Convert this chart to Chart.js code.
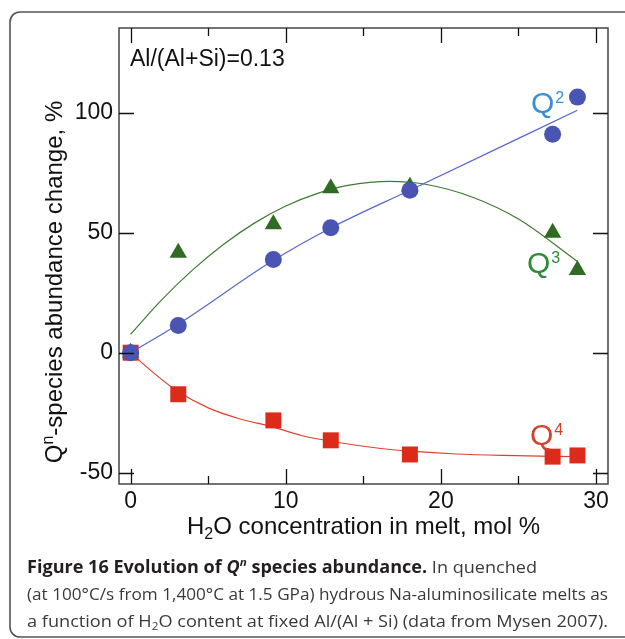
<!DOCTYPE html>
<html>
<head>
<meta charset="utf-8">
<script src="https://cdn.jsdelivr.net/npm/chart.js@4.4.1/dist/chart.umd.min.js"></script>
<style>
  html, body { margin: 0; padding: 0; background: #fff; }
  canvas { display: block; }
</style>
</head>
<body>
<canvas id="qn-chart" width="625" height="639"></canvas>
<script>
// H2O content of the quenched melts, mol %
const h2oContent = [0, 3.07, 9.2, 12.9, 18, 27.2, 28.8];
// change in Qn species abundance, %
const q2Change = [0, 11.3, 38.8, 52.1, 67.7, 91, 106.5];
const q3Change = [0, 41.7, 53.5, 68.5, 69.2, 50, 34.5];
const q4Change = [0, -17.3, -28.2, -36.5, -42.4, -43.3, -42.8];

// trend curves through each species
const q2FitX = [0, 3.1, 9.2, 12.9, 18, 28.8];
const q2FitY = [0, 12, 38.5, 52, 67.7, 101];
const q3FitX = [0, 2, 4, 6, 8, 10, 12, 14, 16.7, 19, 22, 25, 28.8];
const q3FitY = [7.7, 22, 34.5, 45.2, 54.1, 61.1, 66.3, 69.7, 71.4, 70.2, 64.9, 55.7, 38];
const q4FitX = [0, 1.5, 3, 5, 7, 9.2, 11, 13.5, 16, 18, 21, 24, 28.8];
const q4FitY = [0, -8.5, -16, -23, -27.5, -31, -34.5, -37.5, -39.8, -41, -42.2, -42.8, -43.3];

// axis ticks
const xMajorTicks = [0, 10, 20, 30];
const xMinorTicks = [5, 15, 25];
const yMajorTicks = [-50, 0, 50, 100];

const colors = {
    q2: '#4a55b3', q2Line: '#5566cc', q2Label: '#3b8fd4',
    q3: '#2f6b22', q3Line: '#3f7a32', q3Label: '#2c8a38',
    q4: '#dc2b1a', q4Line: '#e2402c', q4Label: '#d6402e',
    axis: '#444', text: '#111'
};

const AXIS_FONT = '"Liberation Sans", Arial, sans-serif';
const CAPTION_FONT = '"Open Sans", "Noto Sans", sans-serif';

function pts(xs, ys) {
    return xs.map((x, i) => ({ x: x, y: ys[i] }));
}

function markerSet(label, ys, color, style, radius) {
    return {
        label: label,
        data: pts(h2oContent, ys),
        showLine: false,
        pointStyle: style,
        pointRadius: radius,
        pointBackgroundColor: color,
        pointBorderWidth: 0
    };
}

function fitSet(label, xs, ys, color) {
    return {
        label: label,
        data: pts(xs, ys),
        showLine: true,
        borderColor: color,
        borderWidth: 1.2,
        pointRadius: 0,
        cubicInterpolationMode: 'monotone',
        fill: false
    };
}

// draw a row of text runs (font, colour, vertical shift) starting at x
function drawRuns(ctx, runs, x, y) {
    let cx = x;
    runs.forEach(r => {
        ctx.font = r.font;
        ctx.fillStyle = r.color;
        ctx.fillText(r.text, cx, y + (r.dy || 0));
        cx += ctx.measureText(r.text).width + (r.gap || 0);
    });
    return cx - x;
}

function runsWidth(ctx, runs) {
    let w = 0;
    runs.forEach(r => { ctx.font = r.font; w += ctx.measureText(r.text).width + (r.gap || 0); });
    return w;
}

const decorations = {
    id: 'decorations',
    afterDraw(chart) {
        const ctx = chart.ctx;
        const area = chart.chartArea;
        const xs = chart.scales.x;
        const ys = chart.scales.y;
        ctx.save();

        // axis box
        ctx.strokeStyle = colors.axis;
        ctx.lineWidth = 1.5;
        ctx.strokeRect(area.left, area.top, area.right - area.left, area.bottom - area.top);

        // inward tick marks on all four sides
        ctx.strokeStyle = '#111';
        ctx.lineWidth = 1.3;
        ctx.beginPath();
        const xTick = (v, len) => {
            const px = Math.round(xs.getPixelForValue(v)) + 0.5;
            ctx.moveTo(px, area.top); ctx.lineTo(px, area.top + len);
            ctx.moveTo(px, area.bottom); ctx.lineTo(px, area.bottom - len);
        };
        xMajorTicks.forEach(v => xTick(v, 15));
        xMinorTicks.forEach(v => xTick(v, 8));
        yMajorTicks.forEach(v => {
            const py = Math.round(ys.getPixelForValue(v)) + 0.5;
            ctx.moveTo(area.left, py); ctx.lineTo(area.left + 15, py);
            ctx.moveTo(area.right, py); ctx.lineTo(area.right - 15, py);
        });
        ctx.stroke();

        ctx.textBaseline = 'alphabetic';
        ctx.textAlign = 'left';

        // composition note
        ctx.font = '23px ' + AXIS_FONT;
        ctx.fillStyle = colors.text;
        ctx.fillText('Al/(Al+Si)=0.13', 130, 66);

        // x axis title with subscript
        const xTitle = [
            { text: 'H', font: '24px ' + AXIS_FONT, color: colors.text },
            { text: '2', font: '16px ' + AXIS_FONT, color: colors.text, dy: 5 },
            { text: 'O concentration in melt, mol %', font: '24px ' + AXIS_FONT, color: colors.text }
        ];
        const xw = runsWidth(ctx, xTitle);
        drawRuns(ctx, xTitle, (area.left + area.right) / 2 - xw / 2, 534);

        // y axis title, rotated, with superscript
        const yTitle = [
            { text: 'Q', font: '24px ' + AXIS_FONT, color: colors.text },
            { text: 'n', font: '16px ' + AXIS_FONT, color: colors.text, dy: -9 },
            { text: '-species abundance change, %', font: '24px ' + AXIS_FONT, color: colors.text }
        ];
        const yw = runsWidth(ctx, yTitle);
        ctx.save();
        ctx.translate(62, 282);
        ctx.rotate(-Math.PI / 2);
        drawRuns(ctx, yTitle, -yw / 2, 0);
        ctx.restore();

        // species labels
        const speciesLabel = (n, color, x, y) => {
            drawRuns(ctx, [
                { text: 'Q', font: '30px ' + AXIS_FONT, color: color, gap: 1 },
                { text: n, font: '16px ' + AXIS_FONT, color: color, dy: -10 }
            ], x, y);
        };
        speciesLabel('2', colors.q2Label, 531, 113);
        speciesLabel('3', colors.q3Label, 527, 273);
        speciesLabel('4', colors.q4Label, 530, 445);

        // caption, each line fitted to its set width
        const bold = 'bold 17px ' + CAPTION_FONT;
        const boldItalic = 'italic bold 17px ' + CAPTION_FONT;
        const reg = '17px ' + CAPTION_FONT;
        const dark = '#231f20';
        const grey = '#3a3a3a';
        const lines = [
            [
                { text: 'Figure 16 Evolution of ', font: bold, color: dark },
                { text: 'Q', font: boldItalic, color: dark },
                { text: 'n', font: 'italic bold 11px ' + CAPTION_FONT, color: dark, dy: -7 },
                { text: ' species abundance.', font: bold, color: dark },
                { text: ' In quenched', font: reg, color: grey }
            ],
            [
                { text: '(at 100\u00b0C/s from 1,400\u00b0C at 1.5 GPa) hydrous Na-aluminosilicate melts as', font: reg, color: grey }
            ],
            [
                { text: 'a function of H', font: reg, color: grey },
                { text: '2', font: '11px ' + CAPTION_FONT, color: grey, dy: 3 },
                { text: 'O content at fixed Al/(Al + Si) (data from Mysen 2007).', font: reg, color: grey }
            ]
        ];
        const lineWidths = [510, 581, 581];
        [573, 600, 627].forEach((by, i) => {
            const sx = lineWidths[i] / runsWidth(ctx, lines[i]);
            ctx.save();
            ctx.translate(27, by);
            ctx.scale(sx, 1);
            drawRuns(ctx, lines[i], 0, 0);
            ctx.restore();
        });

        // rounded figure frame
        ctx.strokeStyle = '#555';
        ctx.lineWidth = 1.6;
        ctx.beginPath();
        ctx.moveTo(640, 12);
        ctx.lineTo(20, 12);
        ctx.arcTo(10, 12, 10, 22, 10);
        ctx.lineTo(10, 627);
        ctx.arcTo(10, 637, 20, 637, 10);
        ctx.lineTo(640, 637);
        ctx.stroke();

        ctx.restore();
    }
};

new Chart(document.getElementById('qn-chart'), {
    type: 'scatter',
    data: {
        datasets: [
            markerSet('Q2', q2Change, colors.q2, 'circle', 8.5),
            markerSet('Q3', q3Change, colors.q3, 'triangle', 10),
            markerSet('Q4', q4Change, colors.q4, 'rect', 11.3),
            fitSet('Q2 fit', q2FitX, q2FitY, colors.q2Line),
            fitSet('Q3 fit', q3FitX, q3FitY, colors.q3Line),
            fitSet('Q4 fit', q4FitX, q4FitY, colors.q4Line)
        ]
    },
    options: {
        responsive: false,
        animation: false,
        events: [],
        layout: { padding: { top: 28, right: 17, left: 0, bottom: 0 } },
        plugins: {
            legend: { display: false },
            tooltip: { enabled: false }
        },
        scales: {
            x: {
                type: 'linear',
                min: -0.75,
                max: 30.77,
                grid: { display: false, drawTicks: false },
                border: { display: false },
                afterBuildTicks: s => { s.ticks = xMajorTicks.map(v => ({ value: v })); },
                afterFit: s => { s.height = 155; },
                ticks: {
                    padding: 4,
                    maxRotation: 0,
                    color: colors.text,
                    font: { family: AXIS_FONT, size: 23 }
                }
            },
            y: {
                type: 'linear',
                min: -54.7,
                max: 135.3,
                grid: { display: false, drawTicks: false },
                border: { display: false },
                afterBuildTicks: s => { s.ticks = yMajorTicks.map(v => ({ value: v })); },
                afterFit: s => { s.width = 119; },
                ticks: {
                    padding: 6,
                    color: colors.text,
                    font: { family: AXIS_FONT, size: 23 }
                }
            }
        }
    },
    plugins: [decorations]
});
</script>
</body>
</html>
